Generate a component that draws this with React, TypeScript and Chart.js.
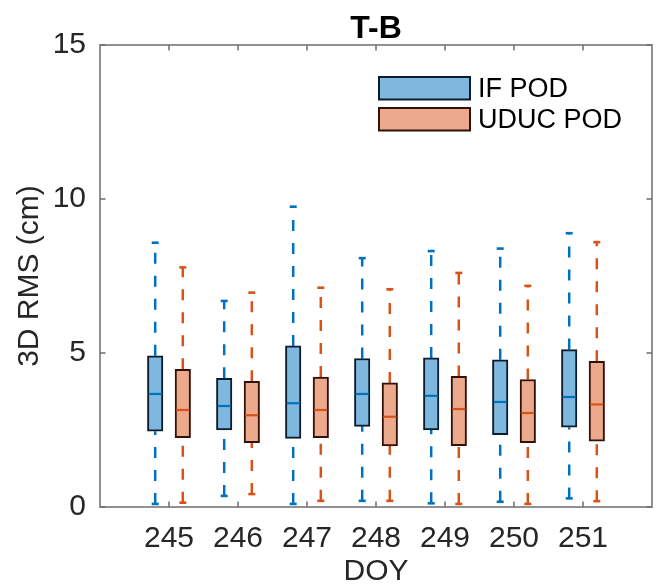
import React, { useEffect, useRef } from "react";
import { Chart, registerables } from "chart.js";

Chart.register(...registerables);

const days = [245, 246, 247, 248, 249, 250, 251];
const yTicks = [0, 5, 10, 15];

// IF POD
const ifLow = [0.1, 0.36, 0.1, 0.2, 0.12, 0.17, 0.28];
const ifQ1 = [2.46, 2.5, 2.23, 2.62, 2.5, 2.35, 2.59];
const ifMed = [3.67, 3.28, 3.37, 3.67, 3.61, 3.41, 3.57];
const ifQ3 = [4.91, 4.18, 5.23, 4.82, 4.84, 4.78, 5.11];
const ifHigh = [8.58, 6.69, 9.75, 8.08, 8.31, 8.39, 8.89];

// UDUC POD
const ucLow = [0.14, 0.42, 0.2, 0.2, 0.1, 0.1, 0.19];
const ucQ1 = [2.25, 2.09, 2.25, 1.98, 1.99, 2.09, 2.14];
const ucMed = [3.15, 2.98, 3.15, 2.93, 3.18, 3.05, 3.33];
const ucQ3 = [4.47, 4.08, 4.22, 4.03, 4.24, 4.14, 4.73];
const ucHigh = [7.78, 6.96, 7.12, 7.07, 7.6, 7.18, 8.6];

const seriesNames = ["IF POD", "UDUC POD"];
const OFFSET = 0.2;

const series = [
  { name: seriesNames[0], off: -OFFSET, low: ifLow, q1: ifQ1, med: ifMed, q3: ifQ3, high: ifHigh,
    fill: "#7eb8de", edge: "#0d1c2c", line: "#0072bd" },
  { name: seriesNames[1], off: OFFSET, low: ucLow, q1: ucQ1, med: ucMed, q3: ucQ3, high: ucHigh,
    fill: "#eca98b", edge: "#33100a", line: "#d95319" },
];

const FONT = "Arial, 'Liberation Sans', sans-serif";

const boxPlugin = {
  id: "boxextras",
  beforeDatasetsDraw(chart: any) {
    const { ctx, scales } = chart;
    const xs = scales.x, ys = scales.y;
    ctx.save();
    series.forEach((s) => {
      days.forEach((d, i) => {
        const px = xs.getPixelForValue(d + s.off);
        ctx.strokeStyle = s.line;
        ctx.lineWidth = 2.5;
        ctx.setLineDash([11, 12]);
        ctx.beginPath();
        ctx.moveTo(px, ys.getPixelForValue(s.q3[i]));
        ctx.lineTo(px, ys.getPixelForValue(s.high[i]));
        ctx.stroke();
        ctx.beginPath();
        ctx.moveTo(px, ys.getPixelForValue(s.low[i]));
        ctx.lineTo(px, ys.getPixelForValue(s.q1[i]));
        ctx.stroke();
        ctx.setLineDash([]);
        ctx.lineWidth = 2.6;
        const capHalf = 3.5;
        [s.high[i], s.low[i]].forEach((v) => {
          const py = ys.getPixelForValue(v);
          ctx.beginPath();
          ctx.moveTo(px - capHalf, py);
          ctx.lineTo(px + capHalf, py);
          ctx.stroke();
        });
      });
    });
    ctx.restore();
  },
  afterDatasetsDraw(chart: any) {
    const { ctx, scales } = chart;
    const xs = scales.x, ys = scales.y;
    ctx.save();
    series.forEach((s) => {
      days.forEach((d, i) => {
        const px = xs.getPixelForValue(d + s.off);
        const py = ys.getPixelForValue(s.med[i]);
        ctx.strokeStyle = s.line;
        ctx.lineWidth = 2.2;
        ctx.beginPath();
        ctx.moveTo(px - 6.5, py);
        ctx.lineTo(px + 6.5, py);
        ctx.stroke();
      });
    });
    ctx.restore();
  },
  afterDraw(chart: any) {
    const { ctx, chartArea: a, scales } = chart;
    const xs = scales.x, ys = scales.y;
    ctx.save();
    ctx.strokeStyle = "#6e6e6e";
    ctx.lineWidth = 1.5;
    ctx.strokeRect(a.left, a.top, a.right - a.left, a.bottom - a.top);
    const tl = 5.5;
    ctx.beginPath();
    days.forEach((d) => {
      const px = xs.getPixelForValue(d);
      ctx.moveTo(px, a.bottom);
      ctx.lineTo(px, a.bottom - tl);
      ctx.moveTo(px, a.top);
      ctx.lineTo(px, a.top + tl);
    });
    yTicks.forEach((v) => {
      const py = ys.getPixelForValue(v);
      ctx.moveTo(a.left, py);
      ctx.lineTo(a.left + tl, py);
      ctx.moveTo(a.right, py);
      ctx.lineTo(a.right - tl, py);
    });
    ctx.stroke();
    ctx.fillStyle = "#000";
    ctx.font = "bold 32px " + FONT;
    ctx.textAlign = "center";
    ctx.textBaseline = "alphabetic";
    ctx.fillText("T-B", (a.left + a.right) / 2, 37.5);
    const lx = 379, lw = 91, lh = 22.5;
    const rows = [77, 108];
    series.forEach((s, k) => {
      const y = rows[k];
      ctx.fillStyle = s.fill;
      ctx.fillRect(lx, y, lw, lh);
      ctx.strokeStyle = s.edge;
      ctx.lineWidth = 2;
      ctx.strokeRect(lx, y, lw, lh);
      ctx.fillStyle = "#000";
      ctx.font = "27px " + FONT;
      ctx.textAlign = "left";
      ctx.textBaseline = "middle";
      ctx.fillText(s.name, 478, y + lh / 2 + 1);
    });
    ctx.restore();
  },
};

export default function App() {
  const ref = useRef<HTMLCanvasElement | null>(null);
  useEffect(() => {
    if (!ref.current) return;
    const chart = new Chart(ref.current, {
      type: "bar",
      data: {
        datasets: series.map((s) => ({
          label: s.name,
          data: days.map((d, i) => ({ x: d + s.off, y: [s.q1[i], s.q3[i]] })) as any,
          backgroundColor: s.fill,
          borderColor: s.edge,
          borderWidth: 2,
          borderSkipped: false,
          barThickness: 15.5,
          grouped: false,
        })),
      },
      options: {
        responsive: false,
        animation: false,
        events: [],
        layout: { padding: { top: 45, right: 7, left: 0, bottom: 0 } },
        plugins: { legend: { display: false }, tooltip: { enabled: false }, title: { display: false } },
        scales: {
          x: {
            type: "linear",
            min: 244,
            max: 252,
            offset: false,
            grid: { display: false },
            border: { display: false },
            afterBuildTicks: (s: any) => { s.ticks = days.map((v) => ({ value: v })); },
            afterFit: (s: any) => { s.height = 78; },
            ticks: {
              autoSkip: false,
              maxRotation: 0,
              padding: 6,
              color: "#262626",
              font: { family: FONT, size: 30 },
              callback: (v: any) => String(v),
            },
            title: {
              display: true,
              text: "DOY",
              color: "#262626",
              font: { family: FONT, size: 30, lineHeight: 0.87 },
              padding: { top: 0, bottom: 0 },
            },
          },
          y: {
            type: "linear",
            min: 0,
            max: 15,
            grid: { display: false },
            border: { display: false },
            afterBuildTicks: (s: any) => { s.ticks = yTicks.map((v) => ({ value: v })); },
            afterFit: (s: any) => { s.width = 100; },
            ticks: {
              padding: 6,
              color: "#262626",
              font: { family: FONT, size: 30 },
              callback: (v: any) => String(v),
            },
            title: {
              display: true,
              text: "3D RMS (cm)",
              color: "#262626",
              font: { family: FONT, size: 30 },
              padding: { top: 12, bottom: 0 },
            },
          },
        },
      },
      plugins: [boxPlugin],
    } as any);
    return () => chart.destroy();
  }, []);
  return (
    <div style={{ position: "absolute", left: 0, top: 0, width: 659, height: 585, background: "#fff" }}>
      <canvas ref={ref} width={659} height={585} style={{ display: "block" }} />
    </div>
  );
}
